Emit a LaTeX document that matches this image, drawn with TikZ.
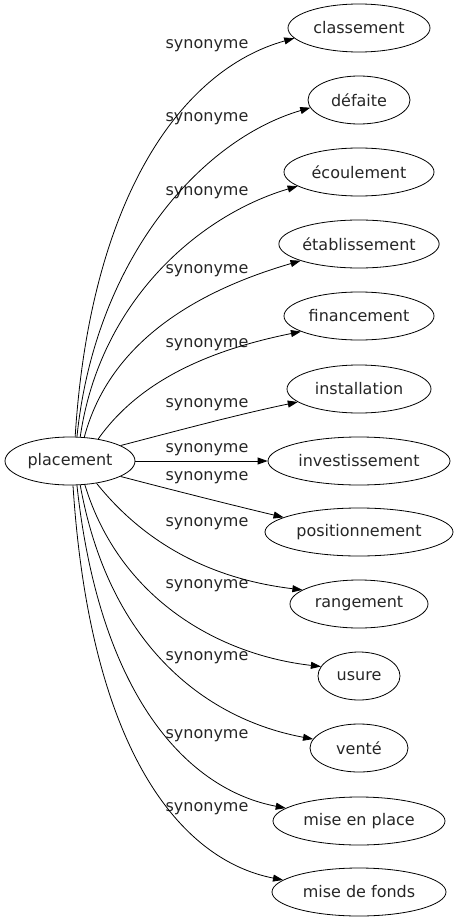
\documentclass[tikz,border=0pt]{standalone}
\usepackage{fontspec}
\setmainfont{DejaVu Sans}
\usetikzlibrary{shapes.geometric,arrows.meta}
\begin{document}
\begin{tikzpicture}[x=1pt,y=-1pt,
  every node/.style={font=\fontsize{16}{19}\selectfont, text=black!85},
  term/.style={draw, ellipse, inner sep=0pt, minimum height=48pt, line width=0.8pt},
  lbl/.style={inner sep=0pt},
  syn/.style={draw, line width=0.8pt, -{Triangle[length=10pt,width=7pt]}}]
\useasboundingbox (0,0) rectangle (459,923);
\node[term, minimum width=130pt] (p) at (70,461) {placement};
\node[term, minimum width=142pt] (t1) at (359,28) {classement};
\node[term, minimum width=102pt] (t2) at (359,100) {défaite};
\node[term, minimum width=150pt] (t3) at (359,172) {écoulement};
\node[term, minimum width=156pt] (t4) at (359,244) {établissement};
\node[term, minimum width=150pt] (t5) at (359,316) {financement};
\node[term, minimum width=144pt] (t6) at (359,389) {installation};
\node[term, minimum width=182pt] (t7) at (359,461) {investissement};
\node[term, minimum width=188pt] (t8) at (359,532) {positionnement};
\node[term, minimum width=138pt] (t9) at (359,604) {rangement};
\node[term, minimum width=82pt] (t10) at (359,676) {usure};
\node[term, minimum width=98pt] (t11) at (359,748) {venté};
\node[term, minimum width=172pt] (t12) at (359,821) {mise en place};
\node[term, minimum width=174pt] (t13) at (359,892) {mise de fonds};
\node[lbl] (l1) at (207,46) {synonyme};
\node[lbl] (l2) at (207,119) {synonyme};
\node[lbl] (l3) at (207,193) {synonyme};
\node[lbl] (l4) at (207,271) {synonyme};
\node[lbl] (l5) at (207,345) {synonyme};
\node[lbl] (l6) at (207,405) {synonyme};
\node[lbl] (l7) at (207,450) {synonyme};
\node[lbl] (l8) at (207,478) {synonyme};
\node[lbl] (l9) at (207,524) {synonyme};
\node[lbl] (l10) at (207,586) {synonyme};
\node[lbl] (l11) at (207,658) {synonyme};
\node[lbl] (l12) at (207,736) {synonyme};
\node[lbl] (l13) at (207,809) {synonyme};
\draw[syn] (p.78) .. controls (90,200) and (180,70) .. (t1.189);
\draw[syn] (p.74) .. controls (95,260) and (200,140) .. (t2.189);
\draw[syn] (p.67) .. controls (100,300) and (200,215) .. (t3.193);
\draw[syn] (p.59) .. controls (110,340) and (200,290) .. (t4.196);
\draw[syn] (p.38) .. controls (140,380) and (210,350) .. (t5.195);
\draw[syn] (p.17) .. controls (180,430) and (240,414) .. (t6.192);
\draw[syn] (p.0) -- (t7.180);
\draw[syn] (p.-17) .. controls (180,492) and (240,507) .. (t8.169);
\draw[syn] (p.-40) .. controls (150,550) and (220,580) .. (t9.166);
\draw[syn] (p.-58) .. controls (120,600) and (220,655) .. (t10.166);
\draw[syn] (p.-67) .. controls (110,650) and (210,720) .. (t11.169);
\draw[syn] (p.-74) .. controls (100,700) and (190,790) .. (t12.170);
\draw[syn] (p.-83) .. controls (90,750) and (180,860) .. (t13.171);
\end{tikzpicture}
\end{document}
